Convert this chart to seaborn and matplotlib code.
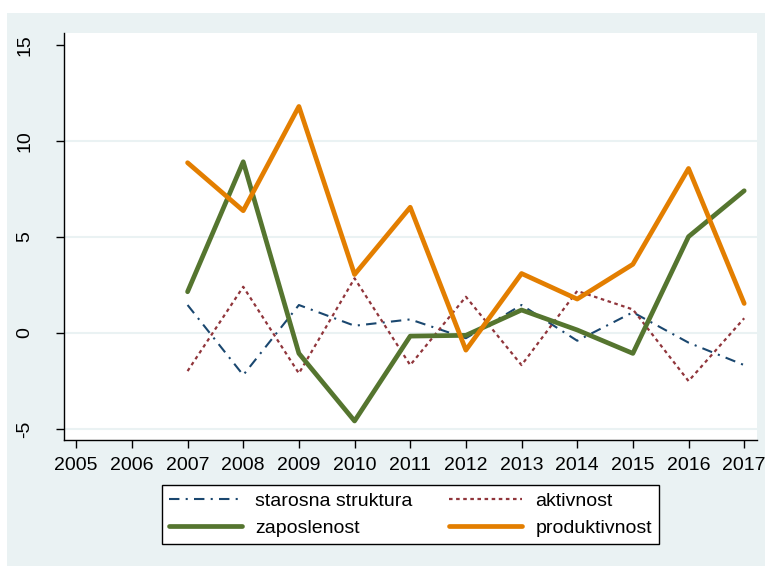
import matplotlib
matplotlib.use("Agg")
import matplotlib.pyplot as plt
from matplotlib.patches import Rectangle
import seaborn as sns
import pandas as pd

years = [2007, 2008, 2009, 2010, 2011, 2012, 2013, 2014, 2015, 2016, 2017]
starosna = [1.46, -2.19, 1.46, 0.38, 0.71, -0.27, 1.46, -0.40, 1.08, -0.50, -1.67]
aktivnost = [-1.98, 2.41, -2.10, 2.85, -1.67, 1.89, -1.67, 2.19, 1.23, -2.50, 0.77]
zaposlenost = [2.15, 8.92, -1.06, -4.58, -0.16, -0.12, 1.20, 0.16, -1.06, 5.02, 7.41]
produktivnost = [8.87, 6.37, 11.80, 3.05, 6.55, -0.89, 3.10, 1.77, 3.58, 8.57, 1.54]

xticks = list(range(2005, 2018))
yticks = [-5, 0, 5, 10, 15]

sns.set_theme(style="white")
plt.rcParams['font.family'] = ['Liberation Sans', 'DejaVu Sans']
plt.rcParams['text.color'] = 'black'
plt.rcParams['axes.unicode_minus'] = False

W, H = 765, 566
fig = plt.figure(figsize=(W / 100, H / 100), dpi=100)
fig.patch.set_facecolor("white")
bg = Rectangle((7 / W, 0), 1 - 7 / W, 1 - 13 / H, transform=fig.transFigure,
               facecolor="#eaf2f3", edgecolor="none", zorder=-10)
fig.patches.append(bg)

ax = fig.add_axes([64 / W, (H - 440) / H, (757 - 64) / W, (440 - 33) / H])
ax.set_zorder(1)
ax.set_facecolor("white")

df = pd.DataFrame({"year": years, "starosna": starosna, "aktivnost": aktivnost,
                   "zaposlenost": zaposlenost, "produktivnost": produktivnost})

specs = [
    ("starosna", "starosna struktura", "#1a476f", 1.5, (0, (5, 3, 1, 3))),
    ("aktivnost", "aktivnost", "#90353b", 1.6, (0, (1.6, 1.6))),
    ("zaposlenost", "zaposlenost", "#55752f", 3.4, "-"),
    ("produktivnost", "produktivnost", "#e37e00", 3.4, "-"),
]
handles = {}
for col, lab, c, lw, ls in specs:
    sns.lineplot(data=df, x="year", y=col, ax=ax, color=c, linewidth=lw,
                 linestyle=ls, label=lab, legend=False, zorder=3)
    handles[lab] = ax.lines[-1]

ax.set_xlim(2004.78, 2017.23)
ax.set_ylim(-5.57, 15.625)
ax.set_xticks(xticks)
ax.set_yticks(yticks)
ax.set_yticklabels([str(v) for v in yticks])
ax.set_xlabel("")
ax.set_ylabel("")

for s in ["top", "right"]:
    ax.spines[s].set_visible(False)
for s in ["left", "bottom"]:
    ax.spines[s].set_color("black")
    ax.spines[s].set_linewidth(1.0)

for yv in yticks[:-1]:
    ax.axhline(yv, color="#eaf2f3", lw=1.5, zorder=1)

ax.tick_params(axis="x", which="major", direction="out", length=6, width=1,
               color="black", labelsize=14, pad=6, bottom=True, labelcolor="black")
ax.tick_params(axis="y", which="major", direction="out", length=6, width=1,
               color="black", labelsize=14, pad=16, left=True, labelcolor="black")
for lbl in ax.get_yticklabels():
    lbl.set_rotation(90)
    lbl.set_va("center")

order = ["starosna struktura", "zaposlenost", "aktivnost", "produktivnost"]
leg = fig.legend([handles[k] for k in order], order, ncol=2, loc="center",
                 bbox_to_anchor=(410.5 / W, 1 - 514.5 / H), bbox_transform=fig.transFigure,
                 fontsize=14, frameon=True, fancybox=False, framealpha=1,
                 handlelength=3.75, handletextpad=0.67, columnspacing=1.9,
                 labelspacing=0.5, borderpad=0.35)
leg.get_frame().set_edgecolor("black")
leg.get_frame().set_linewidth(1.0)
leg.get_frame().set_facecolor("white")
for t in leg.get_texts():
    t.set_color("black")

fig.savefig("out.png", dpi=100, facecolor=fig.get_facecolor())
